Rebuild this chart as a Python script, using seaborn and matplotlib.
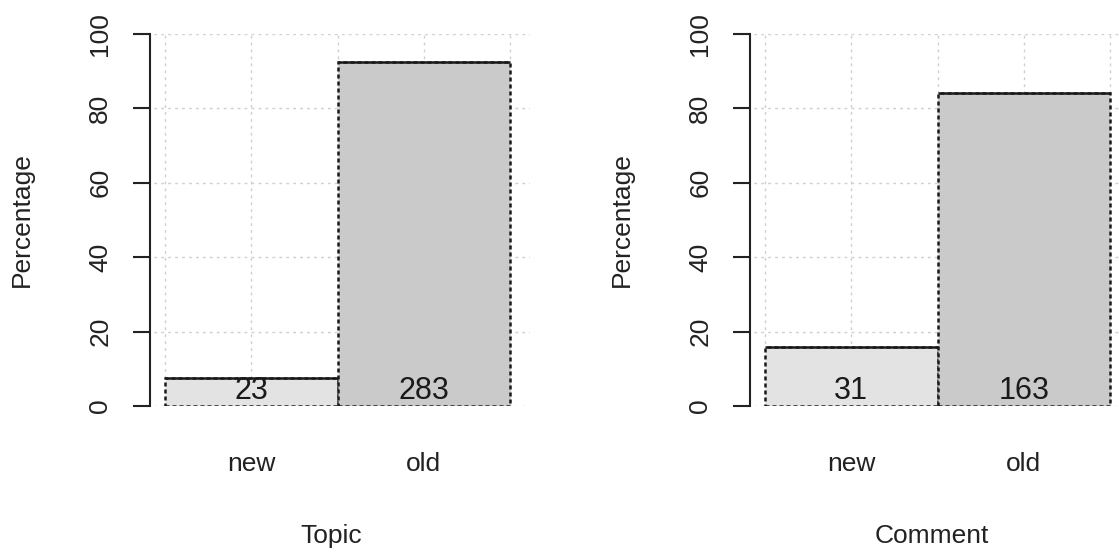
import numpy as np
import pandas as pd
import matplotlib
matplotlib.use('Agg')
import matplotlib.pyplot as plt
import seaborn as sns

categories = ['new', 'old']
topic_counts = [23, 283]
comment_counts = [31, 163]
panel_labels = ['Topic', 'Comment']
bar_colors = ['#e3e3e3', '#cacaca']

sns.set_style('white')
plt.rcParams['font.family'] = ['Liberation Sans', 'DejaVu Sans']

fig = plt.figure(figsize=(11.19, 5.52), dpi=100)
W, H = 1119, 552


def panel(left_px, counts, xlabel):
    ax = fig.add_axes([left_px / W, (H - 406) / H, 397 / W, (406 - 34) / H])
    counts = np.array(counts, dtype=float)
    df = pd.DataFrame({'cat': categories, 'pct': counts / counts.sum() * 100,
                       'n': counts.astype(int)})
    ax.set_axisbelow(True)
    sns.barplot(data=df, x='cat', y='pct', hue='cat', palette=bar_colors,
                width=1.0, legend=False, ax=ax, edgecolor='#1a1a1a',
                linewidth=1.8, linestyle=(0, (1.6, 1.2)), zorder=2)
    # solid top edge on each bar
    for p in ax.patches:
        ax.plot([p.get_x(), p.get_x() + p.get_width()], [p.get_height()] * 2,
                color='#1a1a1a', lw=1.8, zorder=3, solid_capstyle='butt')
    for i, n in enumerate(df['n']):
        ax.text(i, 3.9, str(n), ha='center', va='center', fontsize=22,
                color='#1a1a1a', zorder=4)

    ax.set_xlim(-0.686, 1.616)
    ax.set_ylim(0, 100)
    ax.set_yticks([0, 20, 40, 60, 80, 100])
    ax.set_xticks([0, 1])
    ax.set_xticks([-0.5, 0.5, 1.5], minor=True)
    ax.set_xticklabels(categories)
    ax.grid(True, which='both', linestyle=(0, (2, 3)), color='#cfcfcf', lw=1.0)

    for s in ['top', 'right', 'bottom']:
        ax.spines[s].set_visible(False)
    ax.spines['left'].set_position(('axes', 17 / 397))
    ax.spines['left'].set_color('#222222')
    ax.spines['left'].set_linewidth(1.5)

    ax.tick_params(axis='y', length=12.2, width=1.5, color='#222222',
                   pad=15, labelsize=19, labelrotation=90, left=True,
                   labelcolor='#222222')
    for t in ax.get_yticklabels():
        t.set_va('center')
    ax.tick_params(axis='x', which='both', length=0, pad=33, labelsize=19,
                   labelcolor='#222222')
    ax.set_ylabel('Percentage', fontsize=19, labelpad=39, color='#222222')
    ax.set_xlabel(xlabel, fontsize=19, labelpad=35, color='#222222')
    return ax


panel(133, topic_counts, panel_labels[0])
panel(733, comment_counts, panel_labels[1])

fig.savefig('out.png', dpi=100)
